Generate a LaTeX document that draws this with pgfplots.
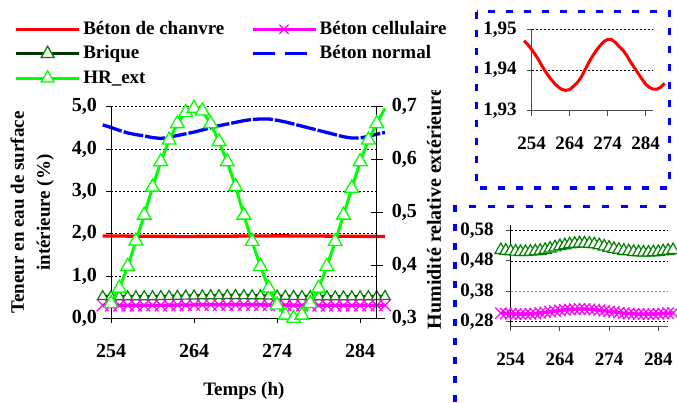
\documentclass[border=0pt]{standalone}
\usepackage{fontspec}
\setmainfont{Liberation Serif}
\usepackage{pgfplots}
\usepackage{pgfplotstable}
\pgfplotsset{compat=1.18}
\definecolor{cred}{HTML}{FF0000}
\definecolor{cmag}{HTML}{FF00FF}
\definecolor{cdkg}{HTML}{003300}
\definecolor{cgrn}{HTML}{008000}
\definecolor{cblu}{HTML}{0000FF}
\definecolor{clim}{HTML}{00FF00}
\newcommand{\lblfont}{\fontsize{19}{26}\selectfont\bfseries}
\newcommand{\tickfont}{\fontsize{20}{20}\selectfont\bfseries}
\newcommand{\itickfont}{\fontsize{19}{19}\selectfont\bfseries}

\pgfplotstableread{
t chanvre
252 1.9472
253 1.9462
254 1.9450
255 1.9437
256 1.9422
257 1.9405
258 1.9391
259 1.9378
260 1.9367
261 1.9358
262 1.9352
263 1.9350
264 1.9352
265 1.9360
266 1.9369
267 1.9382
268 1.9400
269 1.9418
270 1.9434
271 1.9448
272 1.9460
273 1.9470
274 1.9475
275 1.9475
276 1.9468
277 1.9458
278 1.9449
279 1.9436
280 1.9420
281 1.9406
282 1.9392
283 1.9378
284 1.9365
285 1.9357
286 1.9353
287 1.9353
288 1.9358
289 1.9367
}\tabchanvre

\pgfplotstableread{
t brique cell
252 0.515 0.308
253 0.513 0.307
254 0.511 0.306
255 0.510 0.305
256 0.509 0.305
257 0.509 0.305
258 0.510 0.306
259 0.511 0.307
260 0.513 0.309
261 0.516 0.311
262 0.520 0.313
263 0.524 0.315
264 0.528 0.317
265 0.531 0.319
266 0.534 0.320
267 0.536 0.321
268 0.537 0.322
269 0.537 0.322
270 0.536 0.321
271 0.534 0.320
272 0.531 0.318
273 0.527 0.316
274 0.523 0.314
275 0.519 0.312
276 0.516 0.310
277 0.513 0.308
278 0.511 0.307
279 0.509 0.306
280 0.508 0.305
281 0.507 0.305
282 0.507 0.305
283 0.508 0.305
284 0.509 0.306
285 0.511 0.307
286 0.513 0.308
287 0.515 0.309
}\tabbc

\pgfplotstableread{
t normal
253 4.57
254 4.51
255 4.44
256 4.38
257 4.34
258 4.31
259 4.27
260 4.25
261 4.28
262 4.32
263 4.36
264 4.40
265 4.45
266 4.50
267 4.55
268 4.59
269 4.63
270 4.67
271 4.70
272 4.71
273 4.71
274 4.68
275 4.64
276 4.59
277 4.54
278 4.49
279 4.44
280 4.39
281 4.34
282 4.29
283 4.26
284 4.26
285 4.30
286 4.35
287 4.39
}\tabnormal

\pgfplotstableread{
t hr
254 0.328
255 0.357
256 0.398
257 0.446
258 0.495
259 0.548
260 0.596
261 0.637
262 0.668
263 0.689
264 0.697
265 0.692
266 0.668
267 0.634
268 0.596
269 0.549
270 0.495
271 0.445
272 0.398
273 0.357
274 0.325
275 0.306
276 0.300
277 0.306
278 0.328
279 0.357
280 0.398
281 0.445
282 0.495
283 0.546
284 0.596
285 0.637
286 0.668
287 0.697
}\tabhr

\pgfplotsset{
  gridsty/.style={black, line width=0.5pt, dash pattern=on 2pt off 2pt},
  fmt1/.style={/pgf/number format/fixed, /pgf/number format/fixed zerofill, /pgf/number format/precision=1, /pgf/number format/use comma},
  fmt2/.style={/pgf/number format/fixed, /pgf/number format/fixed zerofill, /pgf/number format/precision=2, /pgf/number format/use comma},
}

\begin{document}
\begin{tikzpicture}[x=1pt,y=1pt]
\useasboundingbox (0,0) rectangle (677,402);

% ---------------- main axis (left scale)
\begin{axis}[
  at={(111pt,83.7pt)}, anchor=south west,
  scale only axis, width=265.7pt, height=211.6pt,
  xmin=254, xmax=286, ymin=0, ymax=5,
  clip=false,
  axis x line*=bottom, axis y line*=left,
  axis line style={-, black, line width=0.8pt},
  xtick={254,264,274,284}, ytick={0,1,2,3,4,5},
  tick align=outside, major tick length=5pt,
  tick style={black, line width=0.8pt},
  ymajorgrids, grid style={gridsty},
  /pgf/number format/assume math mode=true,
  tick label style={font=\tickfont},
  yticklabel style={/pgfplots/fmt1, anchor=east, inner sep=0pt, xshift=-9pt},
  xticklabel style={anchor=north, inner sep=0pt, yshift=-21pt},
  xlabel={Temps (h)},
  xlabel style={font=\lblfont, at={(axis description cs:0.5,-0.3436)}, anchor=center},
  ylabel={Teneur en eau de surface\\intérieure (\%)},
  ylabel style={font=\lblfont, align=center, at={(axis description cs:-0.297,0.5)}, anchor=center},
]
\draw[black, line width=0.8pt] (axis cs:253,0) -- (axis cs:287,0);
\addplot[cred, line width=3.3pt, restrict x to domain=253:287] table[x=t,y=chanvre]{\tabchanvre};
\addplot[cdkg, line width=3.3pt, mark=triangle*, mark size=6pt,
  mark options={draw=cgrn, fill=white, line width=1.2pt, solid},
  restrict x to domain=253:287] table[x=t,y=brique]{\tabbc};
\addplot[cmag, line width=3.3pt, mark=x, mark size=8.5pt,
  mark options={line width=1.2pt, solid},
  restrict x to domain=253:287] table[x=t,y=cell]{\tabbc};
\addplot[cblu, line width=3.3pt, dash pattern=on 20pt off 2pt] table[x=t,y=normal]{\tabnormal};
\end{axis}

% ---------------- secondary axis (right scale)
\begin{axis}[
  at={(111pt,83.7pt)}, anchor=south west,
  scale only axis, width=265.7pt, height=211.6pt,
  xmin=254, xmax=286, ymin=0.3, ymax=0.7,
  clip=false,
  axis x line=none, axis y line*=right,
  axis line style={-, black, line width=0.8pt},
  ytick={0.3,0.4,0.5,0.6,0.7},
  tick align=center, major tick length=12pt,
  tick style={black, line width=0.8pt},
  /pgf/number format/assume math mode=true,
  tick label style={font=\tickfont},
  yticklabel style={/pgfplots/fmt1, anchor=west, inner sep=0pt, xshift=9pt},
  ylabel={Humidité relative extérieure},
  ylabel style={font=\fontsize{20}{24}\selectfont\bfseries, at={(axis description cs:1.2157,-0.052)}, anchor=west, inner sep=0pt},
  legend columns=2,
  legend cell align=left,
  legend image code/.code={\draw[mark repeat=2,mark phase=2,#1] plot coordinates {(0pt,0pt) (31.5pt,0pt) (63pt,0pt)};},
  legend style={draw=none, fill=white, inner sep=0pt, outer sep=0pt,
    at={(axis description cs:-0.3632,1.4201)}, anchor=north west,
    font=\lblfont, row sep=1.5pt,
    nodes={inner sep=2.5pt, text height=14pt, text depth=4pt},
    /tikz/every even column/.append style={column sep=24pt}},
]
\addplot[clim, line width=3pt, mark=triangle*, mark size=8pt, mark indices={1,...,33},
  mark options={draw=clim, fill=white, line width=1.3pt, solid}, forget plot] table[x=t,y=hr]{\tabhr};
\addlegendimage{cred, line width=3.3pt}
\addlegendentry{Béton de chanvre}
\addlegendimage{cmag, line width=3.3pt, mark=x, mark size=6.5pt, mark options={line width=1.2pt, solid}}
\addlegendentry{Béton cellulaire}
\addlegendimage{cdkg, line width=3.3pt, mark=triangle*, mark size=7.5pt, mark options={draw=cgrn, fill=white, line width=1.3pt, solid}}
\addlegendentry{Brique}
\addlegendimage{cblu, line width=3.3pt, dash pattern=on 22pt off 10pt}
\addlegendentry{Béton normal}
\addlegendimage{clim, line width=3.3pt, mark=triangle*, mark size=7.5pt, mark options={draw=clim, fill=white, line width=1.3pt, solid}}
\addlegendentry{HR\_ext}
\end{axis}

% ---------------- inset 1 : Béton de chanvre zoom
\begin{axis}[
  at={(531.7pt,291.3pt)}, anchor=south west,
  scale only axis, width=121.6pt, height=81.4pt,
  xmin=254, xmax=286, ymin=1.93, ymax=1.95,
  clip=false,
  axis x line*=bottom, axis y line*=left,
  axis line style={-, gray!60!black, line width=0.8pt},
  xtick={254,264,274,284}, ytick={1.93,1.94,1.95},
  tick align=outside, major tick length=5pt,
  tick style={gray!60!black, line width=0.8pt},
  ymajorgrids, grid style={gridsty},
  /pgf/number format/assume math mode=true,
  tick label style={font=\itickfont},
  yticklabel style={/pgfplots/fmt2, anchor=east, inner sep=0pt, xshift=-10pt},
  xticklabel style={anchor=north, inner sep=0pt, yshift=-21pt},
]
\draw[gray!60!black, line width=0.8pt] (axis cs:252.7,1.93) -- (axis cs:254,1.93);
\addplot[cred, line width=3pt] table[x=t,y=chanvre]{\tabchanvre};
\end{axis}

% ---------------- inset 2 : Brique / Béton cellulaire zoom
\begin{axis}[
  at={(510.7pt,75.7pt)}, anchor=south west,
  scale only axis, width=157.4pt, height=101.2pt,
  xmin=254, xmax=286, ymin=0.265, ymax=0.597,
  clip=false,
  axis x line*=bottom, axis y line*=left,
  x axis line style={-, gray!60!black, line width=0.8pt},
  y axis line style={-, black, line width=0.8pt},
  xtick={254,264,274,284}, ytick={0.28,0.48,0.58},
  extra y ticks={0.38},
  extra y tick style={grid style={gray, line width=0.6pt, dash pattern=on 2pt off 2pt}},
  tick align=outside, major tick length=5pt,
  tick style={gray!60!black, line width=0.8pt},
  ymajorgrids, grid style={gridsty},
  /pgf/number format/assume math mode=true,
  tick label style={font=\itickfont},
  yticklabel style={/pgfplots/fmt2, anchor=east, inner sep=0pt, xshift=-12pt},
  xticklabel style={anchor=north, inner sep=0pt, yshift=-21pt},
]
\addplot[cdkg, line width=2.5pt, mark=triangle*, mark size=7pt,
  mark options={draw=cgrn, fill=white, line width=1.2pt, solid}] table[x=t,y=brique]{\tabbc};
\addplot[cmag, line width=3.3pt, mark=x, mark size=8pt,
  mark options={line width=1.2pt, solid}] table[x=t,y=cell]{\tabbc};
\end{axis}

% ---------------- dashed blue frames
\draw[cblu, line width=3.5pt, dash pattern=on 7pt off 11pt] (476.7,390.3) rectangle (669.5,214);
\draw[cblu, line width=3.5pt, dash pattern=on 7pt off 12pt] (455,0) -- (455,195.3) -- (677,195.3);
\end{tikzpicture}
\end{document}
